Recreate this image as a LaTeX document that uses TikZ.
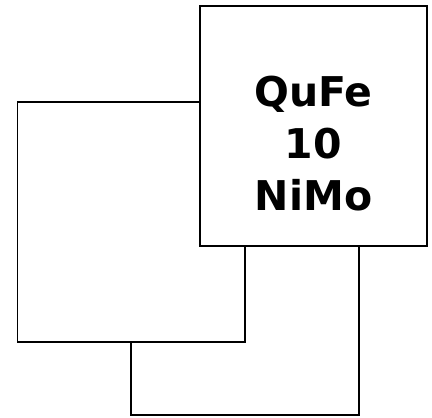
\documentclass[tikz,border=0pt]{standalone}
\usepackage{fontspec}
\setmainfont{DejaVu Sans}
\begin{document}
\begin{tikzpicture}[x=1pt,y=-1pt,
  card/.style={draw=black, fill=white, line width=1.6pt, minimum width=227.5pt, minimum height=240pt, inner sep=0pt, outer sep=0pt},
  lbl/.style={anchor=base, inner sep=0pt, font=\bfseries\fontsize{41}{52}\selectfont}]
\useasboundingbox (0,0) rectangle (432,418);
\fill[white] (0,0) rectangle (432,418);
\node[card] (back) at (245,295) {};
\node[card] (left) at (131.25,222) {};
\node[card] (front) at (313.5,126) {};
\node[lbl] (l1) at (313.5,106.5) {QuFe};
\node[lbl] (l2) at (313.5,158.5) {10};
\node[lbl] (l3) at (313.5,210.5) {NiMo};
\end{tikzpicture}
\end{document}
